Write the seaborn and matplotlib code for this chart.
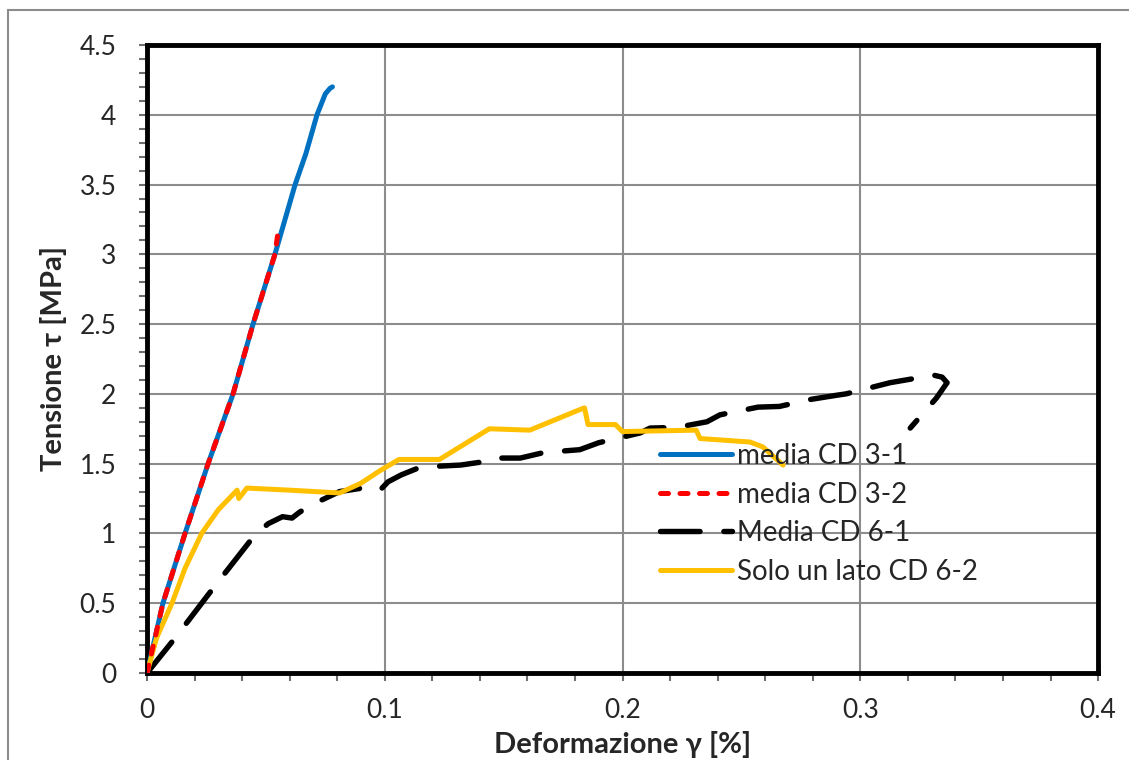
import matplotlib
matplotlib.use("Agg")
import matplotlib.pyplot as plt
import seaborn as sns
import pandas as pd
from matplotlib.ticker import MultipleLocator
from matplotlib.patches import Rectangle

# ---- data ----
cd31_x = [0, 0.0067, 0.016, 0.0257, 0.0362, 0.0446, 0.0538, 0.0623, 0.0668, 0.0715, 0.0750, 0.0770, 0.0780]
cd31_y = [0, 0.5, 1.0, 1.5, 2.0, 2.5, 3.0, 3.5, 3.72, 4.0, 4.15, 4.19, 4.20]

cd32_x = [0, 0.0067, 0.016, 0.0257, 0.0362, 0.0446, 0.0538, 0.0552]
cd32_y = [0, 0.5, 1.0, 1.5, 2.0, 2.5, 3.0, 3.17]

cd61_x = [0, 0.0118, 0.0257, 0.0307, 0.0454, 0.051, 0.057, 0.061, 0.064, 0.0686, 0.081,
          0.0925, 0.098, 0.1014, 0.107, 0.115, 0.132, 0.140, 0.144, 0.157, 0.167, 0.182,
          0.190, 0.2074, 0.2116, 0.223, 0.2355, 0.241, 0.257, 0.266, 0.279, 0.290, 0.294,
          0.3125, 0.321, 0.3306, 0.3344, 0.3365, 0.332, 0.321]
cd61_y = [0, 0.25, 0.56, 0.67, 0.99, 1.07, 1.12, 1.11, 1.15, 1.20, 1.30,
          1.33, 1.31, 1.37, 1.42, 1.475, 1.49, 1.51, 1.54, 1.54, 1.58, 1.60,
          1.65, 1.72, 1.755, 1.76, 1.80, 1.85, 1.905, 1.91, 1.96, 1.99, 2.00,
          2.08, 2.105, 2.135, 2.12, 2.08, 1.97, 1.755]

cd62_x = [0, 0.004, 0.0105, 0.016, 0.023, 0.030, 0.0379, 0.0386, 0.042, 0.060, 0.081,
          0.090, 0.098, 0.106, 0.123, 0.144, 0.161, 0.181, 0.184, 0.1855, 0.197, 0.200,
          0.231, 0.2326, 0.2536, 0.259, 0.2675]
cd62_y = [0, 0.25, 0.5, 0.75, 1.0, 1.17, 1.31, 1.25, 1.325, 1.31, 1.29,
          1.36, 1.45, 1.53, 1.53, 1.75, 1.74, 1.88, 1.90, 1.78, 1.78, 1.73,
          1.74, 1.68, 1.655, 1.62, 1.49]

labels = ["media CD 3-1", "media CD 3-2", "Media CD 6-1", "Solo un lato CD 6-2"]
colors = ["#0070C0", "#FF0000", "#000000", "#FFC000"]

x_ticks = [0, 0.1, 0.2, 0.3, 0.4]
x_ticklabels = ["0", "0.1", "0.2", "0.3", "0.4"]
y_ticks = [0, 0.5, 1, 1.5, 2, 2.5, 3, 3.5, 4, 4.5]
y_ticklabels = ["0", "0.5", "1", "1.5", "2", "2.5", "3", "3.5", "4", "4.5"]

sns.set_theme(style="white")
plt.rcParams["font.family"] = ["Lato", "DejaVu Sans"]

fig = plt.figure(figsize=(11.29, 7.6), dpi=100)
ax = fig.add_axes([0.1302, 0.1145, 0.8424, 0.8263])

# figure frame
fig.patches.append(Rectangle((8 / 1129, -0.1), 1.2, 1 - 10 / 760 + 0.1, transform=fig.transFigure,
                             fill=False, edgecolor="#8c8c8c", linewidth=1.5, zorder=-1))

series = [(cd31_x, cd31_y), (cd32_x, cd32_y), (cd61_x, cd61_y), (cd62_x, cd62_y)]
styles = [dict(linewidth=3.6, solid_capstyle="round"),
          dict(linewidth=3.6, dashes=(1.6, 2.3), dash_capstyle="round"),
          dict(linewidth=3.9, dashes=(7.3, 4.4), dash_capstyle="round"),
          dict(linewidth=3.6, solid_capstyle="round")]
order_z = [3, 4, 2, 3]
for (xs, ys), lab, col, st, z in zip(series, labels, colors, styles, order_z):
    df = pd.DataFrame({"x": xs, "y": ys})
    sns.lineplot(data=df, x="x", y="y", sort=False, estimator=None, ax=ax,
                 color=col, label=lab, zorder=z, **st)

ax.set_xlim(0, 0.4)
ax.set_ylim(0, 4.5)
ax.set_xticks(x_ticks)
ax.set_xticklabels(x_ticklabels)
ax.set_yticks(y_ticks)
ax.set_yticklabels(y_ticklabels)
ax.xaxis.set_minor_locator(MultipleLocator(0.02))
ax.yaxis.set_minor_locator(MultipleLocator(0.1))
ax.tick_params(which="both", direction="out", length=6, width=1.5, color="#6e6e6e",
               bottom=True, left=True, labelsize=19)
ax.tick_params(axis="x", pad=12)
ax.tick_params(axis="y", pad=16)
ax.grid(True, which="major", color="#8c8c8c", linewidth=1.5)
ax.set_axisbelow(True)
for sp in ax.spines.values():
    sp.set_visible(True)
    sp.set_color("black")
    sp.set_linewidth(3.5)

ax.set_xlabel("Deformazione γ [%]", fontsize=21, fontweight="bold", labelpad=6)
ax.set_ylabel("Tensione τ [MPa]", fontsize=21, fontweight="bold", labelpad=9)

leg = ax.legend(loc="upper left", bbox_to_anchor=(0.539, 0.366), frameon=False,
                fontsize=20, handlelength=2.6, handletextpad=0.2, labelspacing=0.45,
                borderpad=0, borderaxespad=0)

fig.savefig("out.png", dpi=100)
